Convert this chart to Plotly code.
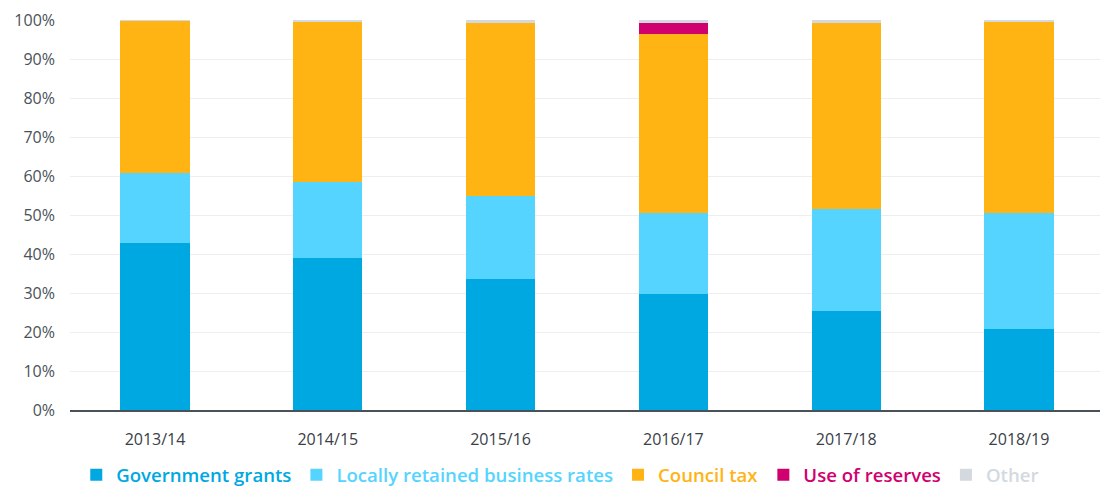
import plotly.graph_objects as go

years = ["2013/14", "2014/15", "2015/16", "2016/17", "2017/18", "2018/19"]
government_grants = [42.8, 39.0, 33.7, 29.7, 25.4, 20.8]
business_rates = [17.9, 19.5, 21.3, 20.7, 26.1, 29.6]
council_tax = [39.1, 41.1, 44.2, 46.0, 47.7, 49.2]
use_of_reserves = [0, 0, 0, 2.8, 0, 0]
other = [0.2, 0.4, 0.8, 0.8, 0.8, 0.4]

series = [
    ("Government grants", government_grants, "#00A8E1"),
    ("Locally retained business rates", business_rates, "#55D4FF"),
    ("Council tax", council_tax, "#FFB414"),
    ("Use of reserves", use_of_reserves, "#D0006F"),
    ("Other", other, "#D3D9DE"),
]

fig = go.Figure()
for name, vals, col in series:
    fig.add_trace(go.Bar(
        x=years, y=vals, marker=dict(color=col, line=dict(width=0)),
        name=f"<span style='color:{col}'>{name}</span>",
    ))

fig.update_layout(
    barmode="stack",
    bargap=0.6,
    width=1100, height=489,
    margin=dict(l=70, r=0, t=20, b=79, autoexpand=False),
    paper_bgcolor="white", plot_bgcolor="white",
    font=dict(family="Open Sans", size=16, color="#555555"),
    showlegend=True,
    legend=dict(orientation="h", x=0.476, xanchor="center", y=-0.167, yanchor="middle",
                font=dict(size=18.6, family="Open Sans", weight=600), traceorder="normal",
                itemwidth=30, tracegroupgap=0),
    yaxis=dict(range=[0, 100], tickvals=list(range(0, 101, 10)),
               ticktext=[f"{v}%" for v in range(0, 101, 10)],
               gridcolor="#EEEEEE", gridwidth=1, zeroline=False, automargin=False,
               ticks="", ticklen=0, ticklabelstandoff=14,
               tickfont=dict(size=16, color="#4A5259")),
    xaxis=dict(showline=True, linecolor="#4A5259", linewidth=2, automargin=False,
               range=[-0.492, 5.469], ticklabelstandoff=14,
               tickfont=dict(size=16, color="#3A4048"), ticks=""),
)

fig.write_html("out.html", config={"displayModeBar": False},
               post_script="document.body.style.margin='0';document.body.style.padding='0';")
